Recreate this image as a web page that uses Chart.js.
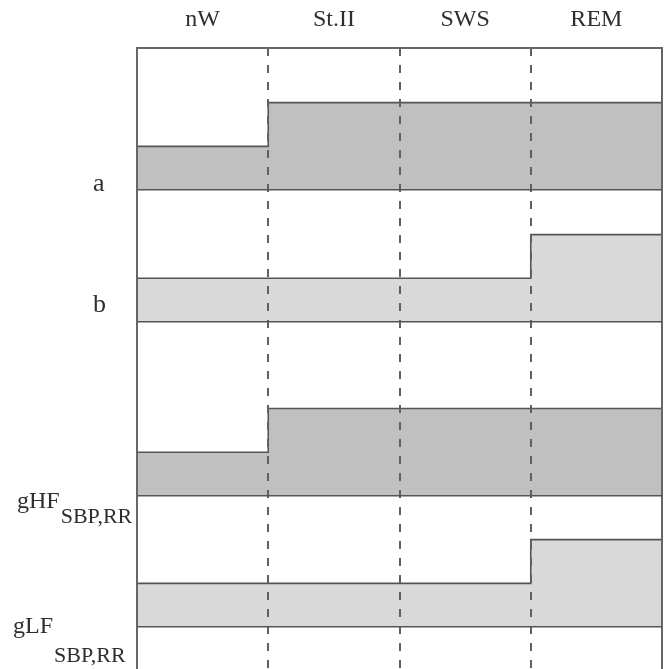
<!DOCTYPE html>
<html><head><meta charset="utf-8">
<script src="https://cdn.jsdelivr.net/npm/chart.js@4/dist/chart.umd.min.js"></script>
<style>html,body{margin:0;padding:0;background:#fff}#wrap{width:664px;height:669px;position:relative}</style>
</head><body><div id="wrap"><canvas id="c"></canvas></div>
<script>
// ---- data ----
const stages = ['nW', 'St.II', 'SWS', 'REM'];
const seriesA = [1, 2, 2, 2];
const seriesB = [1, 1, 1, 2];
const seriesGHF = [1, 2, 2, 2];
const seriesGLF = [1, 1, 1, 2];
const panelNames = ['a', 'b', 'gHF', 'gLF'];
const panelSubs = ['', '', 'SBP,RR', 'SBP,RR'];

// ---- styles ----
const DARK = '#c0c0c0', LIGHT = '#d9d9d9', LINE = '#555555', DASH = '#606060', FRAME = '#666666', TEXT = '#2e2e2e';
const SERIF = '"Liberation Serif", "Times New Roman", serif';

function stepPoints(vals) {
  const pts = vals.map((v, i) => ({ x: i, y: v }));
  pts.push({ x: vals.length, y: vals[vals.length - 1] });
  return pts;
}
function ds(vals, axis, fillColor) {
  return {
    data: stepPoints(vals), xAxisID: 'x', yAxisID: axis, stepped: true, fill: 'origin',
    backgroundColor: fillColor, borderColor: LINE, borderWidth: 1.6,
    pointRadius: 0, pointHoverRadius: 0
  };
}
function panelAxis(min, max, weight) {
  return {
    type: 'linear', position: 'left', stack: 'panels', stackWeight: max - min, weight: weight,
    min: min, max: max,
    afterBuildTicks: s => { s.ticks = [{ value: 0 }]; },
    ticks: { display: false },
    grid: { color: LINE, lineWidth: 1.6, drawTicks: false, z: 1 },
    border: { color: FRAME, width: 2, z: 1 },
    afterFit: s => { s.width = 137; }
  };
}

const labelStyle = [
  { x: 93, dy: 1, size: 26 },
  { x: 93, dy: -10, size: 26 },
  { x: 17, dy: 12, size: 24, subDy: 27, subSize: 22 },
  { x: 13, dy: 6, size: 24, subDy: 35, subSize: 22 }
];
const axisIds = ['yA', 'yB', 'yC', 'yD'];

const leftLabels = {
  id: 'leftLabels',
  afterDraw(chart) {
    const ctx = chart.ctx;
    ctx.save();
    ctx.fillStyle = TEXT;
    ctx.textBaseline = 'alphabetic';
    ctx.textAlign = 'left';
    axisIds.forEach((id, i) => {
      const base = chart.scales[id].getPixelForValue(0);
      const st = labelStyle[i];
      ctx.font = st.size + 'px ' + SERIF;
      ctx.fillText(panelNames[i], st.x, base + st.dy);
      if (panelSubs[i]) {
        const w = ctx.measureText(panelNames[i]).width;
        ctx.font = st.subSize + 'px ' + SERIF;
        ctx.fillText(panelSubs[i], st.x + w + 1, base + st.subDy);
      }
    });
    ctx.restore();
  }
};

new Chart(document.getElementById('c'), {
  type: 'line',
  data: {
    datasets: [
      ds(seriesA, 'yA', DARK),
      ds(seriesB, 'yB', LIGHT),
      ds(seriesGHF, 'yC', DARK),
      ds(seriesGLF, 'yD', LIGHT)
    ]
  },
  options: {
    responsive: true, maintainAspectRatio: false, animation: false,
    layout: { padding: { top: 0, left: 0, right: 2, bottom: 0 } },
    plugins: { legend: { display: false }, tooltip: { enabled: false } },
    scales: {
      x: {
        type: 'linear', position: 'bottom', min: 0, max: 4,
        ticks: { display: false, stepSize: 1 },
        grid: {
          drawTicks: false, lineWidth: 2, z: 1,
          color: c => (c.tick && c.tick.value === 0) ? 'rgba(0,0,0,0)' : (c.tick && c.tick.value === 4 ? FRAME : DASH)
        },
        border: { display: false, dash: c => (c.tick && c.tick.value === 4) ? [] : [8, 9] },
        afterFit: s => { s.height = 0; }
      },
      xTop: {
        type: 'category', position: 'top', labels: stages, offset: true,
        grid: { display: false },
        border: { display: true, color: FRAME, width: 2, z: 1 },
        ticks: { color: TEXT, font: { family: SERIF, size: 24 }, padding: 6, maxRotation: 0 },
        afterFit: s => { s.height = 48; }
      },
      yA: panelAxis(0, 3.25, 4),
      yB: panelAxis(0, 3.02, 3),
      yC: panelAxis(0, 3.98, 2),
      yD: panelAxis(-0.96, 3.0, 1)
    }
  },
  plugins: [leftLabels]
});
</script>
</body></html>
